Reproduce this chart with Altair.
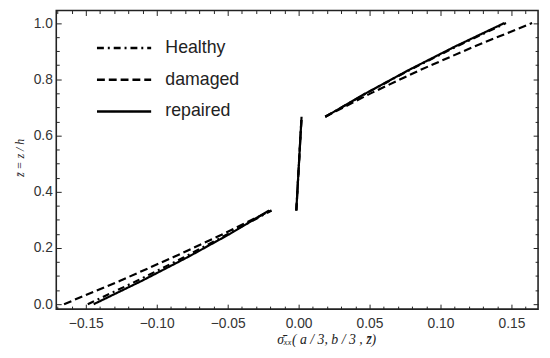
import altair as alt
import pandas as pd

# ---------------- data ----------------
series_names = ["Healthy", "damaged", "repaired"]
dash_patterns = [[7, 4, 2, 4], [8, 4], [1, 0]]

z_bottom = [0.0, 0.0833, 0.1667, 0.25, 0.3333]
z_core = [0.3333, 0.6667]
z_top = [0.6667, 0.75, 0.8333, 0.9167, 1.0]

healthy_bottom = [-0.1486, -0.1138, -0.0808, -0.0497, -0.0190]
healthy_core = [-0.0016, 0.0021]
healthy_top = [0.0188, 0.0476, 0.0784, 0.1113, 0.1462]

damaged_bottom = [-0.1653, -0.1258, -0.0885, -0.0530, -0.0194]
damaged_core = [-0.0016, 0.0021]
damaged_top = [0.0188, 0.0508, 0.0858, 0.1238, 0.1646]

repaired_bottom = [-0.1444, -0.1104, -0.0784, -0.0484, -0.0208]
repaired_core = [-0.0016, 0.0021]
repaired_top = [0.0188, 0.0473, 0.0778, 0.1103, 0.1450]

x_major = [-0.15, -0.10, -0.05, 0.0, 0.05, 0.10, 0.15]
x_minor = [-0.17, -0.16, -0.14, -0.13, -0.12, -0.11, -0.09, -0.08, -0.07, -0.06,
           -0.04, -0.03, -0.02, -0.01, 0.01, 0.02, 0.03, 0.04, 0.06, 0.07, 0.08,
           0.09, 0.11, 0.12, 0.13, 0.14, 0.16]
y_major = [0.0, 0.2, 0.4, 0.6, 0.8, 1.0]
y_minor = [0.05, 0.1, 0.15, 0.25, 0.3, 0.35, 0.45, 0.5, 0.55, 0.65, 0.7, 0.75,
           0.85, 0.9, 0.95]

# ---------------- table ----------------
series_data = {
    "damaged": [("bottom", damaged_bottom, z_bottom), ("core", damaged_core, z_core), ("top", damaged_top, z_top)],
    "Healthy": [("bottom", healthy_bottom, z_bottom), ("core", healthy_core, z_core), ("top", healthy_top, z_top)],
    "repaired": [("bottom", repaired_bottom, z_bottom), ("core", repaired_core, z_core), ("top", repaired_top, z_top)],
}
rows = []
i = 0
for name, segs in series_data.items():
    for seg, xs, zs in segs:
        for xv, zv in zip(xs, zs):
            rows.append({"series": name, "seg": seg, "x": xv, "z": zv, "i": i})
            i += 1
df = pd.DataFrame(rows)

W, H = 489, 303
FRAME = "#222222"
xscale = alt.Scale(domain=[-0.1708, 0.1688], nice=False, zero=False)
yscale = alt.Scale(domain=[-0.0175, 1.0445], nice=False, zero=False)

base = alt.Chart(df)

lines = base.mark_line(strokeWidth=2.2, color="black").encode(
    x=alt.X("x:Q", scale=xscale, axis=alt.Axis(
        orient="bottom", values=x_major, format=".2f", ticks=False, tickSize=0,
        domain=False, grid=False, labelPadding=8, labelFont="Liberation Sans",
        labelFontSize=14, labelColor="#333333",
        title="σ̄ₓₓ( a / 3,  b / 3 , z̄)", titleFont="Liberation Serif",
        titleFontStyle="italic", titleFontWeight="normal", titleFontSize=14,
        titleColor="#222222", titleX=274, titleY=31, titleBaseline="middle",
        titleAlign="center")),
    y=alt.Y("z:Q", scale=yscale, axis=alt.Axis(
        orient="left", values=y_major, format=".1f", ticks=False, tickSize=0,
        domain=False, grid=False, labelPadding=4, labelFont="Liberation Sans",
        labelFontSize=14, labelColor="#333333",
        title="z̄ = z / h", titleFont="Liberation Serif", titleFontStyle="italic",
        titleFontWeight="normal", titleFontSize=12, titleColor="#222222",
        titleX=-37, titleY=149, titleBaseline="middle", titleAlign="center")),
    strokeDash=alt.StrokeDash("series:N", scale=alt.Scale(domain=series_names, range=dash_patterns),
        legend=alt.Legend(orient="none", legendX=58.3, legendY=27.5, title=None,
                          symbolType="M-3,0H3", symbolSize=336, symbolStrokeWidth=2.5,
                          symbolStrokeColor="black", symbolFillColor="transparent",
                          labelFont="Liberation Sans", labelFontSize=18,
                          labelColor="#222222", labelOffset=31.4, rowPadding=12.2,
                          padding=0)),
    detail="seg:N",
    order=alt.Order("i:Q"),
)


def tick_layer(xvals, yvals, size, far):
    common = dict(labels=False, domain=False, grid=False, title=None, ticks=True,
                  tickSize=size, tickColor=FRAME, tickWidth=1)
    if far:
        xa = alt.Axis(orient="bottom", offset=-H, values=xvals, **common)
        ya = alt.Axis(orient="left", offset=-W, values=yvals, **common)
    else:
        xa = alt.Axis(orient="top", offset=-H, values=xvals, **common)
        ya = alt.Axis(orient="right", offset=-W, values=yvals, **common)
    return base.mark_point(opacity=0).encode(
        x=alt.X("x:Q", scale=xscale, axis=xa),
        y=alt.Y("z:Q", scale=yscale, axis=ya),
    )


chart = alt.layer(
    lines,
    tick_layer(x_major, y_major, 5, False),
    tick_layer(x_minor, y_minor, 3, False),
    tick_layer(x_major, y_major, 5, True),
    tick_layer(x_minor, y_minor, 3, True),
).resolve_axis(x="independent", y="independent").properties(
    width=W, height=H,
    padding={"left": 49, "top": 0, "right": 4, "bottom": 45},
    autosize=alt.AutoSizeParams(type="none"),
).configure_view(stroke=FRAME, strokeWidth=1.6)

chart.save("out.html", embed_options={"renderer": "svg", "actions": False})
